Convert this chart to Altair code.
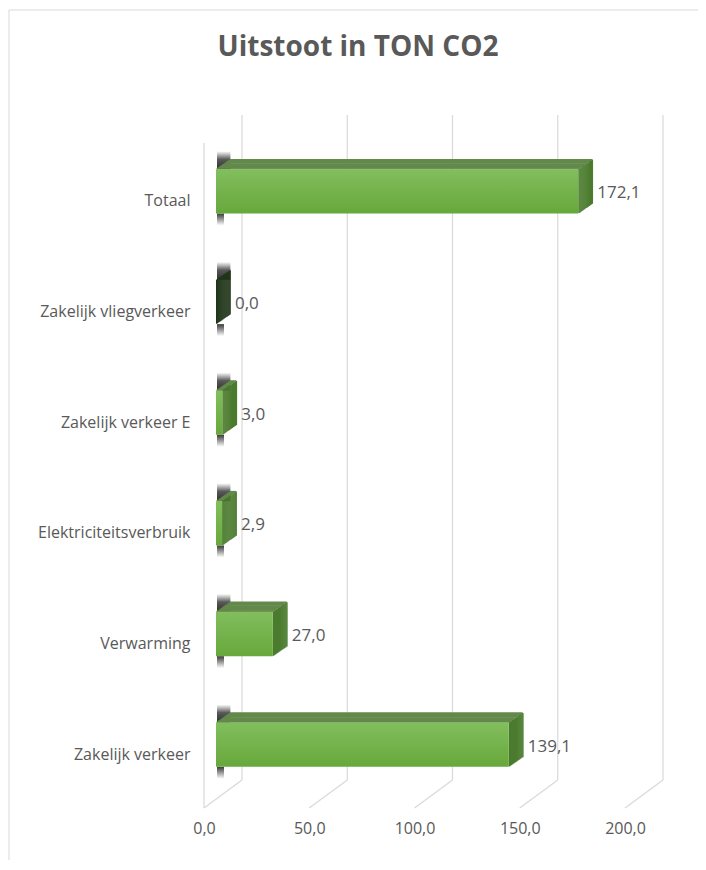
import altair as alt
import pandas as pd

# ---- data ----
categories = ["Totaal", "Zakelijk vliegverkeer", "Zakelijk verkeer E",
              "Elektriciteitsverbruik", "Verwarming", "Zakelijk verkeer"]
values = [172.1, 0.0, 3.0, 2.9, 27.0, 139.1]
x_ticks = [0, 50, 100, 150, 200]
title_text = ["Uitstoot in TON CO2"]

df = pd.DataFrame({"cat": categories, "v": values})
ticks_df = pd.DataFrame({"t": x_ticks})
title_df = pd.DataFrame({"txt": title_text})

# ---- layout / style ----
W, H = 421, 664
PAD = {"left": 196, "top": 128, "right": 73, "bottom": 60}
STEP = H / 6.0
BAND = 0.4 * STEP
FRONT = 12          # bar front face offset from floor front
DX, DY = 14.4, 10   # bar depth
BACK = 38           # back wall offset
FONT = "Open Sans"
TXT = "#595959"
GRID = "#d9d9d9"

x_scale = alt.Scale(domain=[0, 200], nice=False, zero=True)
y_scale = alt.Scale(domain=categories, paddingInner=0.6, paddingOuter=0.3)

lbl_expr = "replace(format(datum.value, '.1f'), '.', ',')"
x_axis = alt.Axis(title=None, domain=False, ticks=False, grid=False,
                  values=x_ticks, labelExpr=lbl_expr, labelFont=FONT,
                  labelFontSize=16, labelColor=TXT, labelPadding=20,
                  labelFlush=False, labelOverlap=False)
y_axis = alt.Axis(title=None, domain=False, ticks=False, grid=False,
                  labelFont=FONT, labelFontSize=16, labelColor=TXT,
                  labelPadding=14, labelOffset=10, labelLimit=300)


def X(field):
    return alt.X(field, scale=x_scale, axis=x_axis)


Yn = alt.Y("cat:N", scale=y_scale, axis=y_axis)

base = alt.Chart(df)
layers = []

# border of chart area
layers.append(alt.Chart(title_df).mark_rule(color=GRID, strokeWidth=1).encode(
    x=alt.value(-PAD["left"] + 1), x2=alt.value(W + PAD["right"]), y=alt.value(-126)))
layers.append(alt.Chart(title_df).mark_rule(color=GRID, strokeWidth=1).encode(
    x=alt.value(-PAD["left"] + 1), y=alt.value(-126), y2=alt.value(H + PAD["bottom"])))

# back wall gridlines
layers.append(alt.Chart(ticks_df).mark_rule(color=GRID, strokeWidth=1.2, xOffset=BACK).encode(
    x=X("t:Q"), y=alt.value(-21), y2=alt.value(644)))
# floor diagonals
layers.append(alt.Chart(ticks_df).mark_rule(color=GRID, strokeWidth=1.2, xOffset=BACK).encode(
    x=X("t:Q"), x2=alt.X2("t"), y=alt.value(644), y2=alt.value(672)))
# left wall front edge
layers.append(alt.Chart(ticks_df).transform_filter("datum.t == 0").mark_rule(
    color=GRID, strokeWidth=1.2).encode(
    x=X("t:Q"), y=alt.value(7), y2=alt.value(672)))

# shadows above / below left edge of bars
shadow_up = alt.Gradient(gradient="linear", x1=0, x2=0, y1=0, y2=1, stops=[
    alt.GradientStop(color="#ffffff", offset=0),
    alt.GradientStop(color="#5a5a5a", offset=0.45),
    alt.GradientStop(color="#2e2e2e", offset=1)])
shadow_dn = alt.Gradient(gradient="linear", x1=0, x2=0, y1=0, y2=1, stops=[
    alt.GradientStop(color="#3a3a3a", offset=0),
    alt.GradientStop(color="#ffffff", offset=1)])
layers.append(base.transform_calculate(z="0").mark_bar(
    color=shadow_up, size=18, xOffset=FRONT + 1, x2Offset=FRONT + DX,
    yOffset=-BAND / 2 - 9).encode(x=X("z:Q"), x2=alt.X2("z"), y=Yn))
layers.append(base.transform_calculate(z="0").mark_bar(
    color=shadow_dn, size=12, xOffset=FRONT + 1, x2Offset=FRONT + 8,
    yOffset=BAND / 2 + 6).encode(x=X("z:Q"), x2=alt.X2("z"), y=Yn))

# top face (horizontal slices of a parallelogram)
N = 14
for k in range(N):
    f = (k + 0.5) / N
    layers.append(base.mark_bar(
        color="#63894b", size=DY / N + 0.6,
        xOffset=FRONT + DX * f, x2Offset=FRONT + DX * f,
        yOffset=-BAND / 2 - DY * f).encode(x=X("v:Q"), y=Yn))

# side face (vertical slices)
M = 14
for j in range(M):
    f0, f1 = j / M, (j + 1) / M
    layers.append(base.mark_bar(
        size=BAND, xOffset=FRONT + DX * f0, x2Offset=FRONT + DX * f1 + 0.4,
        yOffset=-DY * (j + 0.5) / M).encode(
        x=X("v:Q"), x2=alt.X2("v"), y=Yn,
        color=alt.condition("datum.v == 0", alt.value("#1f3518"), alt.value("#4b7b2e"))))

# front face
front_grad = alt.Gradient(gradient="linear", x1=0, x2=0, y1=0, y2=1, stops=[
    alt.GradientStop(color="#82be5e", offset=0),
    alt.GradientStop(color="#67a83b", offset=1)])
layers.append(base.mark_bar(color=front_grad, xOffset=FRONT, x2Offset=FRONT).encode(
    x=X("v:Q"), y=Yn))

# value labels
layers.append(base.transform_calculate(
    lbl="replace(format(datum.v, '.1f'), '.', ',')").mark_text(
    align="left", baseline="middle", dx=31, dy=2, font=FONT, fontSize=17, color=TXT).encode(
    x=X("v:Q"), y=Yn, text="lbl:N"))

# chart title
layers.append(alt.Chart(title_df).mark_text(
    font=FONT, fontSize=28, fontWeight="bold", color=TXT, align="center",
    baseline="middle").encode(x=alt.value(154), y=alt.value(-88), text="txt:N"))

chart = alt.layer(*layers).properties(
    width=W, height=H,
    autosize=alt.AutoSizeParams(type="none"),
    padding=PAD,
).configure_view(stroke=None)

chart.save("out.html", embed_options={"renderer": "svg", "actions": False})
